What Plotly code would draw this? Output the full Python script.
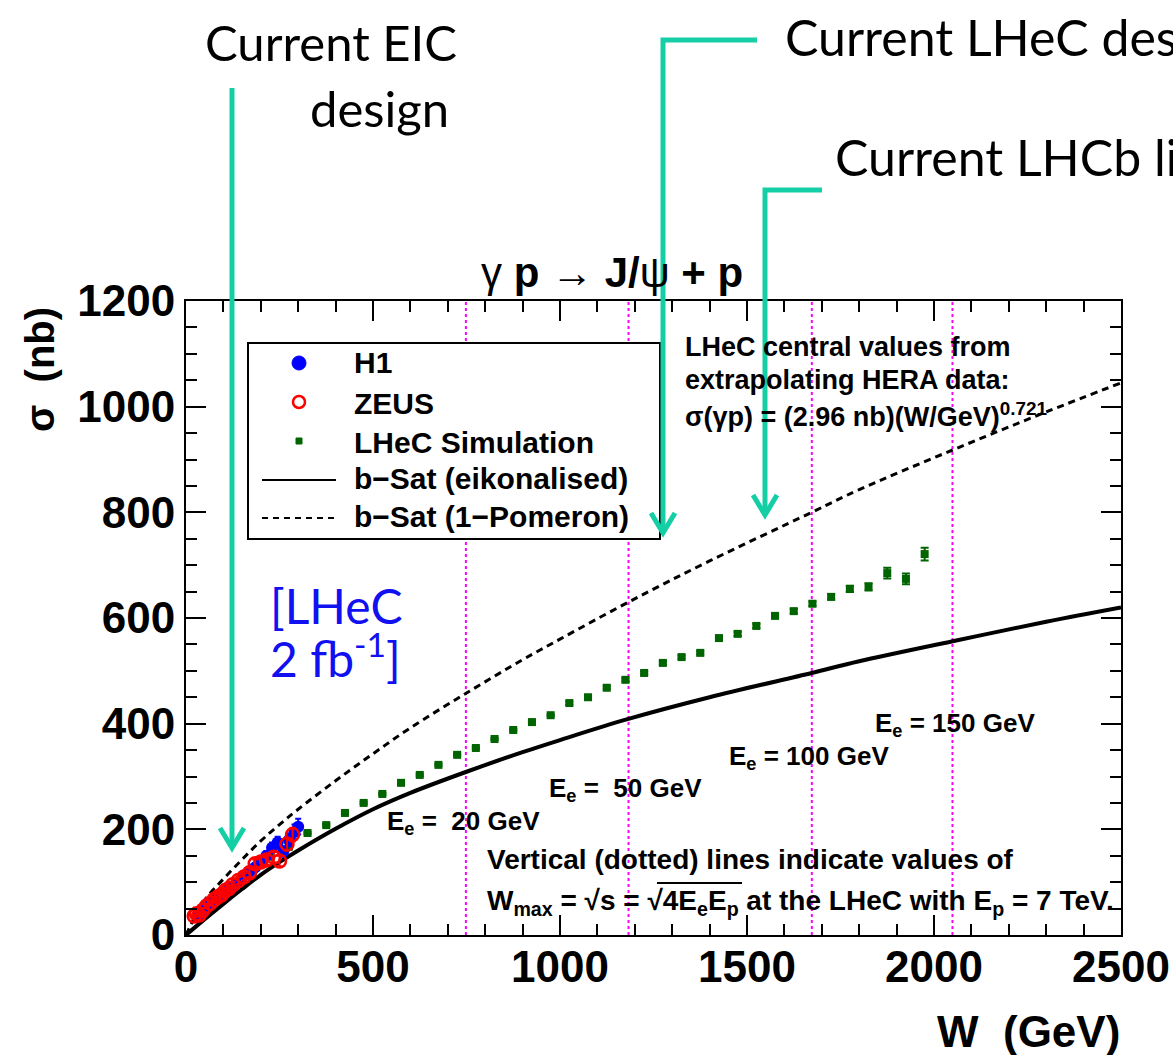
import math
import plotly.graph_objects as go

# ---- b-Sat dipole model predictions, sigma(gamma p -> J/psi p) in nb ----
w_model = [0, 50, 100, 150, 200, 250, 300, 400, 500, 600, 750, 900, 1000, 1183,
           1400, 1673, 1800, 2050, 2300, 2500]
sigma_eikonal = [0, 30, 59, 87, 114, 138, 160, 201, 238, 269, 309, 346, 369, 409,
                 450, 496, 518, 556, 593, 620]
sigma_pomeron = [0, 66, 106, 143, 178, 209, 238, 292, 343, 392, 458, 521, 560, 630,
                 708, 800, 843, 918, 990, 1045]

# ---- HERA measurements ----
w_h1 = [30, 40, 50, 60, 70, 80, 90, 100, 110, 125, 135, 150, 170, 185, 200,
        215, 230, 245, 260, 275, 290, 300]
sigma_h1 = [35, 42, 50, 56, 62, 68, 74, 80, 85, 92, 98, 108, 120, 128, 140,
            150, 165, 175, 158, 180, 195, 205]
err_h1 = [4, 4, 4, 5, 5, 5, 5, 6, 6, 6, 7, 7, 8, 8, 9, 9, 10, 11, 10, 12, 14, 15]

w_zeus = [22, 28, 35, 45, 55, 65, 75, 85, 95, 105, 115, 125, 140, 155, 170,
          185, 200, 215, 235, 250, 270, 285]
sigma_zeus = [36, 40, 38, 47, 55, 60, 67, 72, 76, 84, 88, 95, 103, 110, 118,
              135, 138, 142, 147, 140, 172, 190]
err_zeus = [3, 3, 3, 4, 4, 4, 5, 5, 5, 6, 6, 6, 7, 7, 8, 8, 9, 9, 10, 10, 12, 13]

# ---- LHeC pseudo-data ----
w_sim = [225, 275, 325, 375, 425, 475, 525, 575, 625, 675, 725, 775, 825, 875,
         925, 975, 1025, 1075, 1125, 1175, 1225, 1275, 1325, 1375, 1425, 1475,
         1525, 1575, 1625, 1675, 1725, 1775, 1825, 1875, 1925, 1975]
sigma_sim = [148, 167, 193, 208, 231, 250, 267, 288, 303, 322, 341, 354, 371,
             388, 403, 416, 439, 450, 468, 483, 496, 515, 526, 534, 562, 570,
             585, 604, 613, 627, 640, 655, 659, 685, 674, 721]
err_sim = [2, 2, 2, 2, 2, 2, 2, 2, 2, 2, 2, 2, 2, 2, 2, 2, 3, 3, 3, 3, 3, 3,
           3, 3, 3, 4, 4, 4, 4, 4, 5, 6, 7, 10, 10, 12]

# ---- beam energies for the W_max lines ----
e_electron = [20, 50, 100, 150]   # GeV
e_proton = 7000                   # GeV

x_ticks = [0, 500, 1000, 1500, 2000, 2500]
y_ticks = [0, 200, 400, 600, 800, 1000, 1200]

# canvas geometry (pixels)
W_PX, H_PX = 1173, 1055
L, R, T, B = 186, 1121, 301, 935


def px(x):
    return (x - L) / (R - L)


def py(y):
    return (B - y) / (B - T)


TEAL = "#14CFA5"
HEL = "Liberation Sans"
HUM = "Lato"

fig = go.Figure()

fig.add_trace(go.Scatter(
    x=w_model, y=sigma_pomeron, mode="lines", line_shape="spline",
    line=dict(color="black", width=3, dash="7px,5px"), showlegend=False))
fig.add_trace(go.Scatter(
    x=w_model, y=sigma_eikonal, mode="lines", line_shape="spline",
    line=dict(color="black", width=4), showlegend=False))
fig.add_trace(go.Scatter(
    x=w_sim, y=sigma_sim, mode="markers",
    marker=dict(symbol="square", size=8, color="#006400"),
    error_y=dict(type="data", array=err_sim, color="#006400", thickness=2, width=4),
    showlegend=False))
fig.add_trace(go.Scatter(
    x=w_h1, y=sigma_h1, mode="markers",
    marker=dict(symbol="circle", size=12, color="#0000FF"),
    error_y=dict(type="data", array=err_h1, color="#0000FF", thickness=2, width=3),
    showlegend=False))
fig.add_trace(go.Scatter(
    x=w_zeus, y=sigma_zeus, mode="markers",
    marker=dict(symbol="circle-open", size=13, color="#FF0000", line=dict(width=2.5)),
    error_y=dict(type="data", array=err_zeus, color="#FF0000", thickness=2, width=3),
    showlegend=False))

shapes = []
# maximal W for each electron beam energy
for ee in e_electron:
    wmax = math.sqrt(4 * ee * e_proton)
    shapes.append(dict(type="line", xref="x", yref="paper", x0=wmax, x1=wmax,
                       y0=0, y1=1, layer="below",
                       line=dict(color="#FF00FF", width=2, dash="3px,3px")))

# legend box
shapes.append(dict(type="rect", xref="paper", yref="paper",
                   x0=px(248), x1=px(660), y0=py(539), y1=py(343),
                   line=dict(color="black", width=2), fillcolor="white", layer="above"))
# legend symbols
shapes.append(dict(type="circle", xref="paper", yref="paper",
                   xsizemode="pixel", ysizemode="pixel",
                   xanchor=px(299), yanchor=py(363), x0=-7, x1=7, y0=-7, y1=7,
                   fillcolor="#0000FF", line=dict(color="#0000FF", width=1), layer="above"))
shapes.append(dict(type="circle", xref="paper", yref="paper",
                   xsizemode="pixel", ysizemode="pixel",
                   xanchor=px(299), yanchor=py(402), x0=-6, x1=6, y0=-6, y1=6,
                   fillcolor="white", line=dict(color="#FF0000", width=2.5), layer="above"))
shapes.append(dict(type="rect", xref="paper", yref="paper",
                   xsizemode="pixel", ysizemode="pixel",
                   xanchor=px(299), yanchor=py(441), x0=-3, x1=3, y0=-3, y1=3,
                   fillcolor="#006400", line=dict(color="#006400", width=1), layer="above"))
shapes.append(dict(type="line", xref="paper", yref="paper",
                   x0=px(262), x1=px(336), y0=py(480), y1=py(480),
                   line=dict(color="black", width=2), layer="above"))
shapes.append(dict(type="line", xref="paper", yref="paper",
                   x0=px(262), x1=px(336), y0=py(518), y1=py(518),
                   line=dict(color="black", width=2, dash="6px,5px"), layer="above"))


def path(points):
    return "M " + " L ".join(f"{px(x)},{py(y)}" for x, y in points)


def arrow(points, head):
    shapes.append(dict(type="path", xref="paper", yref="paper", path=path(points),
                       line=dict(color=TEAL, width=5), layer="above"))
    shapes.append(dict(type="path", xref="paper", yref="paper", path=path(head),
                       line=dict(color=TEAL, width=5), layer="above"))


arrow([(232, 88), (232, 848)], [(220, 828), (232, 848), (244, 828)])
arrow([(757, 40), (663, 40), (663, 533)], [(651, 513), (663, 533), (675, 513)])
arrow([(822, 190), (765, 190), (765, 515)], [(753, 495), (765, 515), (777, 495)])

ann = []


def text(s, x, y, size, family=HEL, bold=True, xanchor="left", color="black",
         angle=0):
    ann.append(dict(text=s, x=px(x), y=py(y), xref="paper", yref="paper",
                    xanchor=xanchor, yanchor="middle", showarrow=False,
                    textangle=angle,
                    font=dict(family=family, size=size, color=color,
                              weight="bold" if bold else "normal")))


# title and axis titles
text("γ <b>p</b> → <b>J/</b>ψ <b>+ p</b>", 612, 272, 42, bold=False, xanchor="center")
text("σ  (nb)", 40, 370, 40, angle=-90, xanchor="center")
text("W  (GeV)", 1122, 1031, 44, xanchor="right")

# legend labels
text("H1", 352, 362, 30)
text("ZEUS", 352, 403, 30)
text("LHeC Simulation", 352, 442, 30)
text("b−Sat (eikonalised)", 352, 478, 30)
text("b−Sat (1−Pomeron)", 352, 516, 30)

# fit description
text("LHeC central values from", 683, 347, 27)
text("extrapolating HERA data:", 683, 380, 27)
text("σ(γp) = (2.96 nb)(W/GeV)<sup>0.721</sup>", 683, 415, 27)

# beam energy labels
text("E<sub>e</sub> =  20 GeV", 385, 822, 26)
text("E<sub>e</sub> =  50 GeV", 547, 789, 26)
text("E<sub>e</sub> = 100 GeV", 727, 757, 26)
text("E<sub>e</sub> = 150 GeV", 873, 724, 26)

text("Vertical (dotted) lines indicate values of", 485, 859, 28)
text("W<sub>max</sub> = √s = √4E<sub>e</sub>E<sub>p</sub> at the LHeC with "
     "E<sub>p</sub> = 7 TeV.", 485, 902, 28)

# overbar of the square root
shapes.append(dict(type="line", xref="paper", yref="paper",
                   x0=px(657), x1=px(742), y0=py(883), y1=py(883),
                   line=dict(color="black", width=2), layer="above"))

# luminosity note
text("[LHeC", 268, 605, 48, family=HUM, bold=False, color="#1010F0")
text("2 fb<sup>-1</sup>]", 268, 655, 48, family=HUM, bold=False, color="#1010F0")

# design labels
text("Current EIC", 203, 42, 49, family=HUM, bold=False)
text("design", 308, 108, 49, family=HUM, bold=False)
text("Current LHeC design", 783, 37, 50, family=HUM, bold=False)
text("Current LHCb limit", 833, 157, 50, family=HUM, bold=False)

axis_common = dict(
    showgrid=False, zeroline=False, showline=True, linecolor="black", linewidth=2,
    mirror="ticks", ticks="inside", ticklen=20, tickwidth=2, tickcolor="black",
    automargin=False,
    tickfont=dict(family=HEL, size=44, color="black", weight="bold"),
)

fig.update_layout(
    width=W_PX, height=H_PX, autosize=False,
    margin=dict(l=L, r=W_PX - R, t=T, b=H_PX - B, pad=0, autoexpand=False),
    paper_bgcolor="white", plot_bgcolor="white",
    font=dict(family=HEL),
    xaxis=dict(range=[0, 2500], tickvals=x_ticks, ticklabelstandoff=-8,
               minor=dict(dtick=100, ticks="inside", ticklen=11, tickwidth=2,
                          tickcolor="black"),
               **axis_common),
    yaxis=dict(range=[0, 1200], tickvals=y_ticks, ticklabelstandoff=0,
               minor=dict(dtick=50, ticks="inside", ticklen=11, tickwidth=2,
                          tickcolor="black"),
               **axis_common),
    shapes=shapes,
    annotations=ann,
    showlegend=False,
)

fig.write_html("out.html")
